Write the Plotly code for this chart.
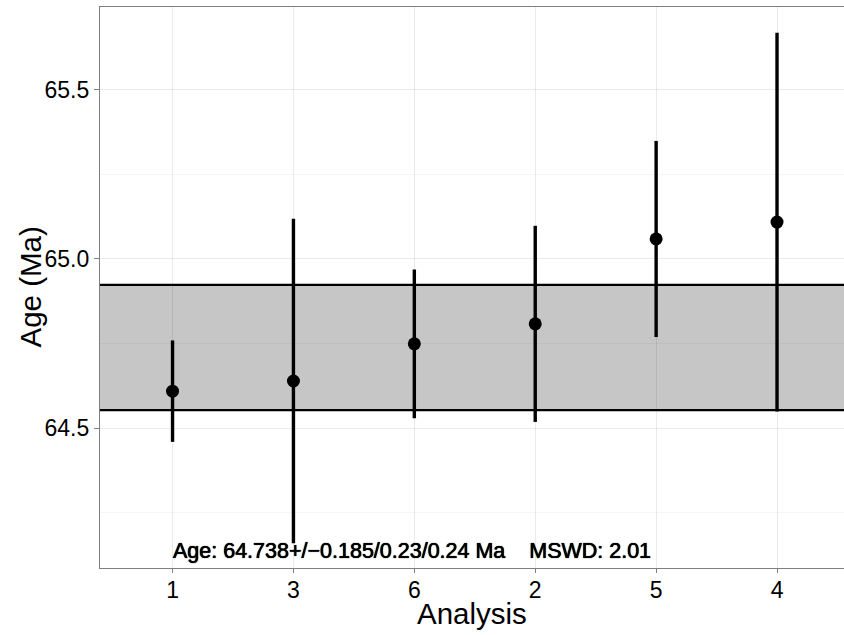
import plotly.graph_objects as go

# Weighted-mean age plot: individual analyses with 2-sigma error bars
analysis = ["1", "3", "6", "2", "5", "4"]
age = [64.609, 64.639, 64.749, 64.808, 65.059, 65.109]
err = [0.150, 0.480, 0.220, 0.290, 0.290, 0.560]

wm_age = 64.738
wm_err = 0.185
summary = "Age: 64.738+/\u22120.185/0.23/0.24 Ma    MSWD: 2.01"

FONT = "Liberation Sans, Arial, Helvetica, sans-serif"

fig = go.Figure()

fig.add_trace(go.Scatter(
    x=analysis, y=age,
    mode="markers",
    marker=dict(color="black", size=13),
    error_y=dict(type="data", array=err, symmetric=True,
                 color="black", thickness=3.4, width=0),
    showlegend=False,
    hoverinfo="skip",
))

# Weighted mean band
fig.add_shape(type="rect", xref="paper", yref="y",
              x0=0, x1=1, y0=wm_age - wm_err, y1=wm_age + wm_err,
              fillcolor="#c6c6c6", line=dict(width=0),
              layer="below")
for yv in (wm_age - wm_err, wm_age + wm_err):
    fig.add_shape(type="line", xref="paper", yref="y",
                  x0=0, x1=1, y0=yv, y1=yv,
                  line=dict(color="black", width=2.2), layer="below")

fig.add_annotation(x=0, y=64.135, xref="x", yref="y",
                   text=summary, showarrow=False,
                   xanchor="left", yanchor="middle", xshift=-2,
                   font=dict(family=FONT, size=21.5, color="black",
                             shadow="0 0 0.7px #000, 0 0 0.7px #000"))

# Axis titles
fig.add_annotation(x=0.5, y=0, xref="paper", yref="paper",
                   text="Analysis", showarrow=False,
                   xanchor="center", yanchor="middle", yshift=-45,
                   font=dict(family=FONT, size=29.5, color="black"))
fig.add_annotation(x=0, y=0.5, xref="paper", yref="paper",
                   text="Age (Ma)", showarrow=False, textangle=-90,
                   xanchor="center", yanchor="middle", xshift=-70,
                   font=dict(family=FONT, size=29.5, color="black"))

fig.update_layout(
    width=844, height=635,
    margin=dict(l=100, r=0, t=7, b=67),
    paper_bgcolor="white", plot_bgcolor="white",
    font=dict(family=FONT, color="black"),
    xaxis=dict(
        type="category", categoryorder="array", categoryarray=analysis,
        range=[-0.6, 5.554],
        showgrid=True, gridcolor="rgba(0,0,0,0.08)", gridwidth=1,
        showline=True, linecolor="#7f7f7f", linewidth=1.2, mirror=True,
        ticks="outside", ticklen=4, tickcolor="#7f7f7f", tickwidth=1,
        ticklabelstandoff=-3,
        tickfont=dict(size=23, color="black"),
        zeroline=False,
        layer="above traces",
    ),
    yaxis=dict(
        range=[64.086, 65.745],
        tickvals=[64.5, 65.0, 65.5], ticktext=["64.5", "65.0", "65.5"],
        showgrid=True, gridcolor="rgba(0,0,0,0.08)", gridwidth=1.3,
        minor=dict(tickvals=[64.25, 64.75, 65.25], showgrid=True,
                   gridcolor="rgba(0,0,0,0.04)", gridwidth=1, ticks=""),
        showline=True, linecolor="#7f7f7f", linewidth=1.2,
        ticks="outside", ticklen=5, tickcolor="#7f7f7f", tickwidth=1,
        tickfont=dict(size=23, color="black"),
        zeroline=False,
    ),
)

fig.write_html("out.html")
